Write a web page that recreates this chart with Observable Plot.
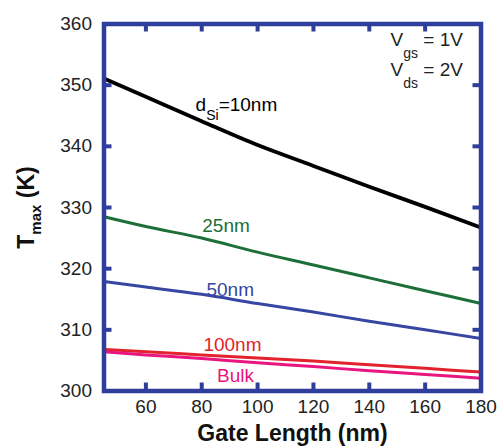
<!DOCTYPE html>
<html><head><meta charset="utf-8">
<script src="https://cdn.jsdelivr.net/npm/d3@7"></script>
<script src="https://cdn.jsdelivr.net/npm/@observablehq/plot@0.6"></script>
<style>body{margin:0;background:#fff}</style>
</head><body><div id="chart"></div>
<script>
// ---- data ----
const gateLength = [45, 60, 80, 100, 120, 140, 160, 180];
const tSi10  = [351.1, 348.1, 344.1, 340.2, 336.8, 333.4, 330.1, 326.7];
const tSi25  = [328.5, 326.9, 325.0, 322.7, 320.6, 318.5, 316.4, 314.3];
const tSi50  = [317.9, 317.0, 315.8, 314.3, 312.9, 311.4, 310.0, 308.6];
const tSi100 = [306.8, 306.4, 305.9, 305.4, 304.9, 304.3, 303.7, 303.1];
const tBulk  = [306.4, 305.9, 305.3, 304.6, 304.0, 303.3, 302.7, 302.1];

const seriesNames  = ["d_{Si}=10nm", "25nm", "50nm", "100nm", "Bulk"];
const seriesValues = [tSi10, tSi25, tSi50, tSi100, tBulk];
const seriesColors = ["#000000", "#1E6E38", "#3646A2", "#E2222C", "#E8167E"];
const seriesWidths = [3.8, 3, 3, 3, 3];
// label anchors (data units: nm, K)
const labelX = [77.8, 80.2, 81.7, 80.6, 85.5];
const labelY = [345.7, 326.0, 315.6, 306.5, 301.4];

const biasText = ["V_{gs} = 1V", "V_{ds} = 2V"];
const biasX = [147.6, 147.6];
const biasY = [356.4, 351.5];

const xTicks = [60, 80, 100, 120, 140, 160, 180];
const yTicks = [300, 310, 320, 330, 340, 350, 360];
const xTitle = "Gate Length (nm)";
const yTitle = "T_{max} (K)";

const frameColor = "#2E3E9B";

// ---- layout ----
const W = 499, H = 446;
const mL = 103.5, mR = 18.5, mT = 23.5, mB = 55.5;
const innerW = W - mL - mR, innerH = H - mT - mB;
const tickLen = 8;

// ---- tables ----
const rows = seriesNames.flatMap((s, i) =>
  gateLength.map((g, j) => ({series: s, len: g, temp: seriesValues[i][j]})));
const labels = seriesNames.map((s, i) => ({text: s, x: labelX[i], y: labelY[i], color: seriesColors[i]}));
const bias = biasText.map((t, i) => ({text: t, x: biasX[i], y: biasY[i]}));

const lineMarks = seriesNames.map((s, i) =>
  Plot.line(rows.filter(r => r.series === s), {
    x: "len", y: "temp", stroke: seriesColors[i], strokeWidth: seriesWidths[i], curve: "monotone-x"
  }));

const tk = {stroke: frameColor, strokeWidth: 4};

const chart = Plot.plot({
  width: W, height: H,
  marginLeft: mL, marginRight: mR, marginTop: mT, marginBottom: mB,
  style: {fontFamily: "'Liberation Sans', Arial, sans-serif", fontSize: "19px"},
  x: {domain: [45, 180], axis: null},
  y: {domain: [300, 360], axis: null},
  marks: [
    ...lineMarks,
    Plot.axisY(yTicks, {anchor: "left", tickSize: 0, tickPadding: 12, fill: "#222", fontSize: 19, label: null}),
    Plot.axisX(xTicks, {anchor: "bottom", tickSize: 0, tickPadding: 8, fill: "#222", fontSize: 19, label: null}),
    Plot.text(labels, {x: "x", y: "y", text: "text", fill: "color", textAnchor: "start", lineAnchor: "bottom", fontSize: 19}),
    Plot.text(bias, {x: "x", y: "y", text: "text", fill: "#222", textAnchor: "start", lineAnchor: "bottom", fontSize: 19}),
    Plot.text([xTitle], {frameAnchor: "bottom", text: d => d, dy: 49.5, lineAnchor: "bottom", fontSize: 23, fontWeight: "bold", fill: "#111"}),
    Plot.text([yTitle], {frameAnchor: "left", text: d => d, dx: -70, rotate: -90, textAnchor: "middle", lineAnchor: "bottom", fontSize: 23, fontWeight: "bold", fill: "#111"}),
    // inward ticks on all four sides, then the frame
    Plot.ruleY(yTicks, {y: d => d, insetRight: innerW - tickLen, ...tk}),
    Plot.ruleY(yTicks, {y: d => d, insetLeft: innerW - tickLen, ...tk}),
    Plot.ruleX(xTicks, {x: d => d, insetTop: innerH - tickLen, ...tk}),
    Plot.ruleX(xTicks, {x: d => d, insetBottom: innerH - tickLen, ...tk}),
    Plot.frame({stroke: frameColor, strokeWidth: 4.5})
  ]
});

// subscripts: "a_{b}c"
chart.querySelectorAll("text").forEach(t => {
  const s = t.textContent;
  const m = s.match(/^(.*?)_\{([^}]*)\}(.*)$/);
  if (!m) return;
  const isBias = /^V_/.test(s);
  const isTitle = /^T_/.test(s);
  const drop = isBias ? 12 : isTitle ? 7 : 9;
  const subSize = isTitle ? 15 : 14;
  t.textContent = "";
  const ns = "http://www.w3.org/2000/svg";
  const a = document.createElementNS(ns, "tspan"); a.textContent = m[1]; t.appendChild(a);
  const b = document.createElementNS(ns, "tspan"); b.textContent = m[2];
  b.setAttribute("dy", drop); b.setAttribute("font-size", subSize); t.appendChild(b);
  const c = document.createElementNS(ns, "tspan"); c.textContent = m[3];
  c.setAttribute("dy", -drop); t.appendChild(c);
});

document.getElementById("chart").appendChild(chart);
</script>
</body></html>
